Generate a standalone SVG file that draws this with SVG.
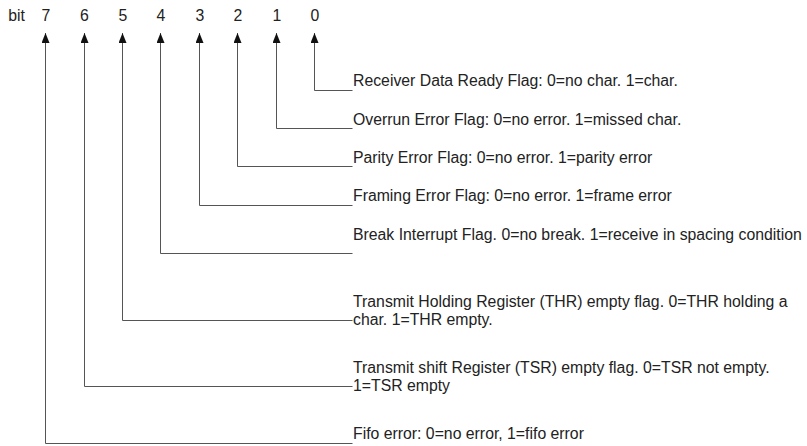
<svg xmlns="http://www.w3.org/2000/svg" width="807" height="446" viewBox="0 0 807 446">
  <style>
    text { font-family: "Liberation Sans", Arial, sans-serif; fill: #222; font-size: 15.8px; }
    .hdr text { text-anchor: middle; }
    .wire { fill: none; stroke: #555; stroke-width: 1; }
  </style>
  <defs>
    <marker id="arrow" viewBox="0 0 8 10" refX="4" refY="0" markerWidth="8" markerHeight="10" markerUnits="userSpaceOnUse" orient="0">
      <path d="M0,10 L4,0 L8,10 Z" fill="#111"/>
    </marker>
  </defs>
  <rect width="807" height="446" fill="#fff"/>

  <!-- bit number header -->
  <g id="header" class="hdr">
    <text x="16.5" y="21">bit</text>
    <text x="46" y="21">7</text>
    <text x="84.5" y="21">6</text>
    <text x="123" y="21">5</text>
    <text x="161" y="21">4</text>
    <text x="200" y="21">3</text>
    <text x="238" y="21">2</text>
    <text x="277" y="21">1</text>
    <text x="315" y="21">0</text>
  </g>

  <!-- connectors from each bit to its description -->
  <g id="connectors">
    <path class="wire" marker-start="url(#arrow)" d="M314.5,33 V90.5 H352.5"/>
    <path class="wire" marker-start="url(#arrow)" d="M276.5,33 V128.5 H352.5"/>
    <path class="wire" marker-start="url(#arrow)" d="M237.5,33 V166.5 H352.5"/>
    <path class="wire" marker-start="url(#arrow)" d="M199.5,33 V205.5 H352.5"/>
    <path class="wire" marker-start="url(#arrow)" d="M160.5,33 V253.5 H352.5"/>
    <path class="wire" marker-start="url(#arrow)" d="M122.5,33 V320.5 H352.5"/>
    <path class="wire" marker-start="url(#arrow)" d="M84.5,33 V386.5 H352.5"/>
    <path class="wire" marker-start="url(#arrow)" d="M45.5,33 V443.5 H352.5"/>
  </g>

  <g id="bit0"><text x="353" y="86">Receiver Data Ready Flag: 0=no char. 1=char.</text></g>
  <g id="bit1"><text x="353" y="124.5">Overrun Error Flag: 0=no error. 1=missed char.</text></g>
  <g id="bit2"><text x="353" y="162.5">Parity Error Flag: 0=no error. 1=parity error</text></g>
  <g id="bit3"><text x="353" y="201">Framing Error Flag: 0=no error. 1=frame error</text></g>
  <g id="bit4"><text x="353" y="240">Break Interrupt Flag. 0=no break. 1=receive in spacing condition</text></g>
  <g id="bit5">
    <text x="353" y="306.5">Transmit Holding Register (THR) empty flag. 0=THR holding a</text>
    <text x="353" y="324.5">char. 1=THR empty.</text>
  </g>
  <g id="bit6">
    <text x="353" y="372.5">Transmit shift Register (TSR) empty flag. 0=TSR not empty.</text>
    <text x="353" y="390.5">1=TSR empty</text>
  </g>
  <g id="bit7"><text x="353" y="439">Fifo error: 0=no error, 1=fifo error</text></g>
</svg>
